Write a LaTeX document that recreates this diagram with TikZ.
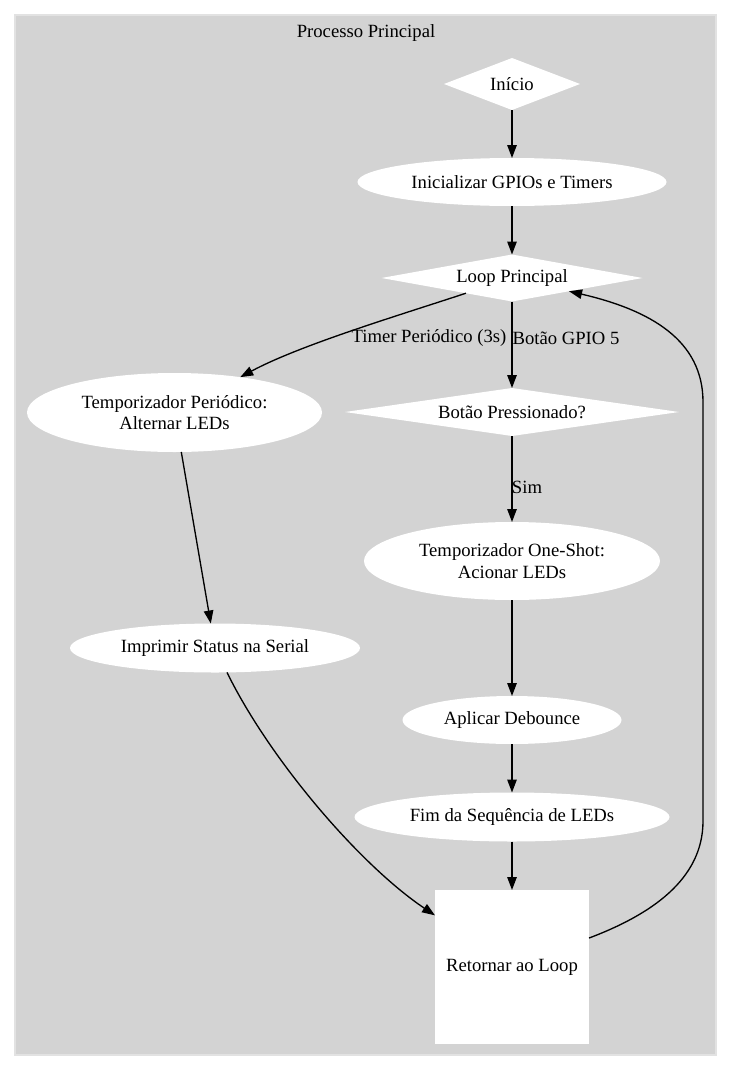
\documentclass[tikz,border=0pt]{standalone}
\usepackage{fontspec}
\setmainfont{Liberation Serif}
\usetikzlibrary{shapes.geometric,arrows.meta}
\definecolor{gvgray}{RGB}{211,211,211}
\definecolor{gvline}{RGB}{226,226,226}

\begin{document}
\begin{tikzpicture}[x=1pt,y=-1pt,line width=1.33pt,
  font=\fontsize{18.67}{21.5}\selectfont,
  dec/.style={diamond,fill=white,inner sep=0pt,outer sep=0pt},
  act/.style={ellipse,fill=white,inner sep=0pt,outer sep=0pt,align=center},
  edge/.style={-{Triangle[length=13pt,width=9.5pt]}}]
  \useasboundingbox (0,0) rectangle (731,1071);
  \draw[fill=gvgray,draw=gvline] (15,15) rectangle (716,1055);
  \node (titulo) at (366,33) {Processo Principal};
  % nos
  \node[dec,shape aspect=2.6,minimum width=136pt,minimum height=52pt] (inicio) at (512,84) {Início};
  \node[act,minimum width=309pt,minimum height=48pt] (init) at (512,182) {Inicializar GPIOs e Timers};
  \node[dec,shape aspect=5.5,minimum width=261pt,minimum height=47pt] (loop) at (512,278) {Loop Principal};
  \node[dec,shape aspect=7,minimum width=334pt,minimum height=48pt] (botao) at (512,412) {Botão Pressionado?};
  \node[act,minimum width=295pt,minimum height=79pt] (periodico) at (174.5,412.5) {Temporizador Periódico:\\Alternar LEDs};
  \node[act,minimum width=296pt,minimum height=78pt] (oneshot) at (512,561) {Temporizador One-Shot:\\Acionar LEDs};
  \node[act,minimum width=290pt,minimum height=49pt] (imprimir) at (215,648) {Imprimir Status na Serial};
  \node[act,minimum width=219pt,minimum height=48pt] (debounce) at (512,720) {Aplicar Debounce};
  \node[act,minimum width=315pt,minimum height=49pt] (fim) at (512,817) {Fim da Sequência de LEDs};
  \node[rectangle,fill=white,inner sep=0pt,outer sep=0pt,minimum size=154pt] (retornar) at (512,967) {Retornar ao Loop};
  % rotulos
  \node (lbltimer) at (429,338) {Timer Periódico (3s)};
  \node (lblgpio) at (566,338) {Botão GPIO 5};
  \node (lblsim) at (527,487) {Sim};
  % arestas
  \draw[edge] (inicio) -- (init);
  \draw[edge] (init) -- (loop);
  \draw[edge] (loop) .. controls (400,315) and (300,345) .. (periodico);
  \draw[edge] (loop) -- (botao);
  \draw[edge] (botao) -- (oneshot);
  \draw[edge] (oneshot) -- (debounce);
  \draw[edge] (debounce) -- (fim);
  \draw[edge] (fim) -- (retornar);
  \draw[edge] (periodico) -- (imprimir);
  \draw[edge] (imprimir) .. controls (270,760) and (360,865) .. (retornar);
  \draw[edge] (retornar) .. controls (650,915) and (703,880) .. (703,821)
    -- (703,402) .. controls (703,340) and (650,310) .. (loop);
\end{tikzpicture}
\end{document}
